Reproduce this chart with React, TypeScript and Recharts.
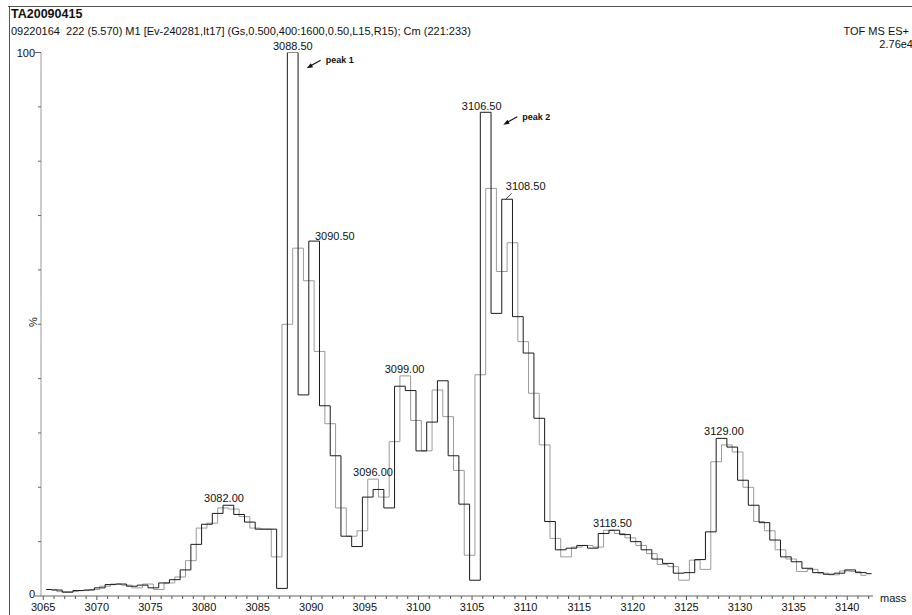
import React from "react";
import { LineChart, Line, XAxis, YAxis, ReferenceDot } from "recharts";

const FONT = '"Liberation Sans", Arial, Helvetica, sans-serif';
const W = 912;
const H = 615;

// two overlaid traces, bin centres (mass) and intensity (%)
const blackMass = [
  3065.27, 3066.27, 3067.27, 3068.27, 3069.27, 3070.27, 3071.27, 3072.27, 3073.27, 3074.27,
  3075.27, 3076.27, 3077.27, 3078.27, 3079.27, 3080.27, 3081.27, 3082.27, 3083.27, 3084.27,
  3085.27, 3086.27, 3087.27, 3088.27, 3089.27, 3090.27, 3091.27, 3092.27, 3093.27, 3094.27,
  3095.27, 3096.27, 3097.27, 3098.27, 3099.27, 3100.27, 3101.27, 3102.27, 3103.27, 3104.27,
  3105.27, 3106.27, 3107.27, 3108.27, 3109.27, 3110.27, 3111.27, 3112.27, 3113.27, 3114.27,
  3115.27, 3116.27, 3117.27, 3118.27, 3119.27, 3120.27, 3121.27, 3122.27, 3123.27, 3124.27,
  3125.27, 3126.27, 3127.27, 3128.27, 3129.27, 3130.27, 3131.27, 3132.27, 3133.27, 3134.27,
  3135.27, 3136.27, 3137.27, 3138.27, 3139.27, 3140.27, 3141.27, 3142.27,
];
const blackPct = [
  1.2, 1.1, 0.7, 1.0, 1.1, 1.5, 2.1, 2.2, 1.8, 2.0,
  1.5, 2.4, 3.0, 4.8, 9.5, 13.2, 15.2, 16.7, 15.0, 13.6,
  12.3, 12.3, 1.4, 100, 37, 65.3, 35, 25.8, 11, 9.1,
  18.2, 19.6, 16.2, 38.6, 37.8, 26.7, 32, 39.6, 25.8, 16.9,
  2.9, 89, 52, 73, 51.4, 44.7, 32.7, 13.7, 8.5, 8.8,
  9.3, 8.8, 11.5, 12.1, 11.3, 10.0, 8.5, 6.8, 6.0, 4.2,
  4.3, 6.7, 11.8, 29.0, 27.4, 21.3, 16.7, 13.5, 10.3, 7.2,
  6.3, 5.1, 4.3, 4.0, 4.2, 4.8, 4.3, 4.1,
];

const greyMass = [
  3065.77, 3066.77, 3067.77, 3068.77, 3069.77, 3070.77, 3071.77, 3072.77, 3073.77, 3074.77,
  3075.77, 3076.77, 3077.77, 3078.77, 3079.77, 3080.77, 3081.77, 3082.77, 3083.77, 3084.77,
  3085.77, 3086.77, 3087.77, 3088.77, 3089.77, 3090.77, 3091.77, 3092.77, 3093.77, 3094.77,
  3095.77, 3096.77, 3097.77, 3098.77, 3099.77, 3100.77, 3101.77, 3102.77, 3103.77, 3104.77,
  3105.77, 3106.77, 3107.77, 3108.77, 3109.77, 3110.77, 3111.77, 3112.77, 3113.77, 3114.77,
  3115.77, 3116.77, 3117.77, 3118.77, 3119.77, 3120.77, 3121.77, 3122.77, 3123.77, 3124.77,
  3125.77, 3126.77, 3127.77, 3128.77, 3129.77, 3130.77, 3131.77, 3132.77, 3133.77, 3134.77,
  3135.77, 3136.77, 3137.77, 3138.77, 3139.77, 3140.77, 3141.77,
];
const greyPct = [
  1.2, 0.8, 0.8, 1.0, 1.2, 1.8, 2.2, 2.0, 1.5, 2.2,
  1.2, 2.4, 3.5, 6.5, 12.5, 13.4, 16.2, 16.0, 14.6, 12.5,
  12.3, 7.2, 50, 64, 58, 45, 31.7, 16.2, 11, 12,
  21.5, 18.2, 28.4, 40.5, 32.3, 26.7, 37.9, 33, 23.1, 7.5,
  40.7, 75, 59.7, 65, 46.8, 37.3, 27.8, 10.6, 7.2, 9.0,
  9.3, 9.0, 12.1, 11.5, 10.7, 9.3, 7.8, 5.8, 5.4, 2.9,
  6.6, 4.9, 24.7, 27.8, 26.5, 20.0, 13.7, 12.0, 8.5, 6.8,
  4.5, 4.9, 4.2, 3.9, 4.6, 4.5, 3.8,
];

const xLabelTicks = [3065, 3070, 3075, 3080, 3085, 3090, 3095, 3100, 3105, 3110, 3115, 3120, 3125, 3130, 3135, 3140];
const yTicks = [0, 10, 20, 30, 40, 50, 60, 70, 80, 90, 100];
const yLabelTicks = [0, 100];

// peak labels: text, centre mass, top of the bar they sit on
const peakLabels = [
  { text: "3082.00", mass: 3081.86, pct: 16.7 },
  { text: "3088.50", mass: 3088.28, pct: 100 },
  { text: "3090.50", mass: 3092.2, pct: 65.3 },
  { text: "3096.00", mass: 3095.76, pct: 21.5 },
  { text: "3099.00", mass: 3098.7, pct: 40.5 },
  { text: "3106.50", mass: 3105.9, pct: 89 },
  { text: "3108.50", mass: 3110.0, pct: 73 },
  { text: "3118.50", mass: 3118.1, pct: 12.1 },
  { text: "3129.00", mass: 3128.5, pct: 29 },
];
const peakNotes = [
  { text: "peak 1", mass: 3089.57, pct: 97.1 },
  { text: "peak 2", mass: 3107.91, pct: 86.7 },
];

const blackData = blackMass.map((m, i) => ({ mass: m, pct: blackPct[i] }));
const greyData = greyMass.map((m, i) => ({ mass: m, pct: greyPct[i] }));
const minorTicks: number[] = [];
for (let t = 3065; t <= 3142; t++) minorTicks.push(t);

const labelLift: Record<string, number> = { "3108.50": 9, "3090.50": 1, "3106.50": 2 };

function XTick(props: any) {
  const { x, y, payload } = props;
  const v = payload.value;
  const major = xLabelTicks.includes(v);
  return (
    <g>
      <line x1={x} y1={y} x2={x} y2={y + (major ? 4 : 3)} stroke="#555" />
      {major && (
        <text x={x} y={y + 15} textAnchor="middle" fontSize={11} fontFamily={FONT} fill="#111">
          {v}
        </text>
      )}
    </g>
  );
}

function YTick(props: any) {
  const { x, y, payload } = props;
  const v = payload.value;
  const lab = yLabelTicks.includes(v);
  return (
    <g>
      <line x1={x - (lab ? 6 : 3)} y1={y} x2={x} y2={y} stroke="#666" />
      {lab && (
        <text x={x - 6} y={v === 0 ? y + 2 : y + 4} textAnchor="end" fontSize={11} fontFamily={FONT} fill="#111">
          {v}
        </text>
      )}
    </g>
  );
}

function PeakLabel(props: any) {
  const { cx, cy, text } = props;
  const lift = labelLift[text] ?? 3;
  return (
    <g>
      {text === "3108.50" && <line x1={cx - 20} y1={cy} x2={cx - 14} y2={cy - 6} stroke="#444" />}
      <text x={cx} y={cy - lift} textAnchor="middle" fontSize={11} fontFamily={FONT} fill="#111">
        {text}
      </text>
    </g>
  );
}

function PeakNote(props: any) {
  const { cx, cy, text } = props;
  return (
    <g>
      <line x1={cx + 4} y1={cy - 2.5} x2={cx + 14} y2={cy - 8} stroke="#111" strokeWidth={1.3} />
      <polygon points={`${cx},${cy} ${cx + 6.4},${cy - 1} ${cx + 4.2},${cy - 5}`} fill="#111" />
      <text x={cx + 19} y={cy - 5} fontSize={9} fontWeight={600} fontFamily={FONT} fill="#111">
        {text}
      </text>
    </g>
  );
}

export default function App() {
  return (
    <div style={{ position: "absolute", left: 0, top: 0, width: W, height: H, background: "#fff", overflow: "hidden" }}>
      <LineChart width={W} height={H} margin={{ top: 52.5, right: 39, bottom: 0, left: 0 }}>
        <XAxis
          dataKey="mass"
          type="number"
          domain={[3064.79, 3142.4]}
          allowDataOverflow
          ticks={minorTicks}
          interval={0}
          tick={<XTick />}
          tickSize={0}
          tickMargin={0}
          tickLine={false}
          axisLine={{ stroke: "#666" }}
          height={19}
        />
        <YAxis
          type="number"
          domain={[0, 100]}
          allowDataOverflow
          ticks={yTicks}
          interval={0}
          tick={<YTick />}
          tickSize={0}
          tickMargin={0}
          tickLine={false}
          axisLine={{ stroke: "#999" }}
          width={41}
        />
        <Line
          data={greyData}
          dataKey="pct"
          type="step"
          stroke="#9a9a9a"
          strokeWidth={1}
          dot={false}
          activeDot={false}
          isAnimationActive={false}
        />
        <Line
          data={blackData}
          dataKey="pct"
          type="step"
          stroke="#1a1a1a"
          strokeWidth={1}
          dot={false}
          activeDot={false}
          isAnimationActive={false}
        />
        {peakLabels.map((l) => (
          <ReferenceDot
            key={l.text}
            x={l.mass}
            y={l.pct}
            r={1}
            ifOverflow="visible"
            shape={(p: any) => <PeakLabel cx={p.cx} cy={p.cy} text={l.text} />}
          />
        ))}
        {peakNotes.map((n) => (
          <ReferenceDot
            key={n.text}
            x={n.mass}
            y={n.pct}
            r={1}
            ifOverflow="visible"
            shape={(p: any) => <PeakNote cx={p.cx} cy={p.cy} text={n.text} />}
          />
        ))}
      </LineChart>
      <svg width={W} height={H} style={{ position: "absolute", left: 0, top: 0, pointerEvents: "none" }}>
        <line x1={8} y1={6.5} x2={W} y2={6.5} stroke="#555" />
        <line x1={9.5} y1={6} x2={9.5} y2={H} stroke="#555" />
        <text x={11} y={18} fontSize={12.5} fontWeight={700} fontFamily={FONT} fill="#111">
          TA20090415
        </text>
        <text x={11} y={35} fontSize={11} fontFamily={FONT} fill="#111" style={{ whiteSpace: "pre" }}>
          {"09220164  222 (5.570) M1 [Ev-240281,It17] (Gs,0.500,400:1600,0.50,L15,R15); Cm (221:233)"}
        </text>
        <text x={909} y={35} textAnchor="end" fontSize={11} fontFamily={FONT} fill="#111">
          TOF MS ES+
        </text>
        <text x={913} y={48} textAnchor="end" fontSize={11} fontFamily={FONT} fill="#111">
          2.76e4
        </text>
        <text x={0} y={0} transform="translate(37,322) rotate(-90)" textAnchor="middle" fontSize={11} fontFamily={FONT} fill="#111">
          %
        </text>
        <text x={880} y={602} fontSize={11} fontFamily={FONT} fill="#111">
          mass
        </text>
      </svg>
    </div>
  );
}
